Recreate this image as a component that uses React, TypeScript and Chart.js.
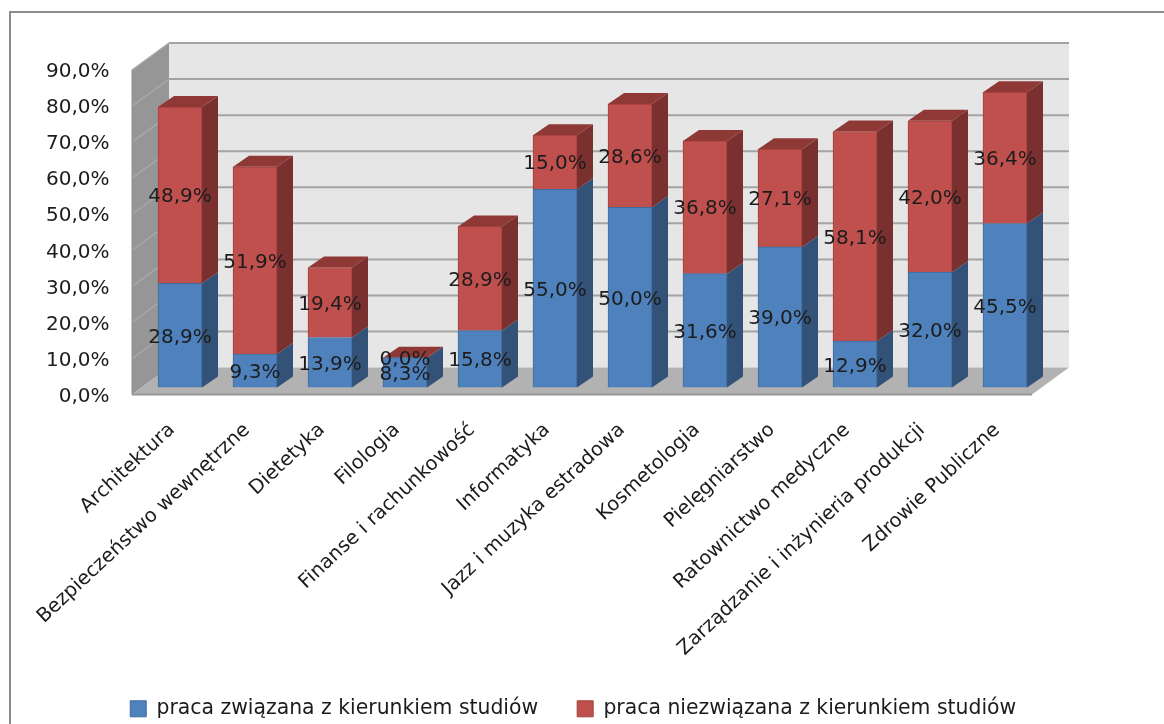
import React, { useEffect, useRef } from "react";
import { Chart, registerables } from "chart.js";

Chart.register(...registerables);

const categories = [
  "Architektura",
  "Bezpieczeństwo wewnętrzne",
  "Dietetyka",
  "Filologia",
  "Finanse i rachunkowość",
  "Informatyka",
  "Jazz i muzyka estradowa",
  "Kosmetologia",
  "Pielęgniarstwo",
  "Ratownictwo medyczne",
  "Zarządzanie i inżynieria produkcji",
  "Zdrowie Publiczne",
];
const related = [28.9, 9.3, 13.9, 8.3, 15.8, 55.0, 50.0, 31.6, 39.0, 12.9, 32.0, 45.5];
const unrelated = [48.9, 51.9, 19.4, 0.0, 28.9, 15.0, 28.6, 36.8, 27.1, 58.1, 42.0, 36.4];
const relatedName = "praca związana z kierunkiem studiów";
const unrelatedName = "praca niezwiązana z kierunkiem studiów";

const FONT = "'DejaVu Sans', sans-serif";
const TEXT = "#1c1c1c";
const fmt = (v: number) => v.toFixed(1).replace(".", ",") + "%";

const W = 1164;
const H = 724;
const BAR_LIFT = 7;
const DEPTH_X = 16;
const DEPTH_Y = 11;
const BACK_X = 37;
const BACK_Y = 27;

const poly = (ctx: CanvasRenderingContext2D, pts: number[][], fill: string) => {
  ctx.beginPath();
  pts.forEach(([x, y], i) => (i ? ctx.lineTo(x, y) : ctx.moveTo(x, y)));
  ctx.closePath();
  ctx.fillStyle = fill;
  ctx.fill();
};

const line = (ctx: CanvasRenderingContext2D, pts: number[][], color: string, w: number) => {
  ctx.beginPath();
  pts.forEach(([x, y], i) => (i ? ctx.lineTo(x, y) : ctx.moveTo(x, y)));
  ctx.strokeStyle = color;
  ctx.lineWidth = w;
  ctx.stroke();
};

const scene = {
  id: "scene",
  afterLayout(chart: any) {
    const lg = chart.legend;
    if (lg) {
      lg.left += 52;
      lg.right += 52;
      lg.top += 5;
      lg.bottom += 5;
    }
    chart.scales.x.bottom = H;
  },
  beforeDatasetsDraw(chart: any) {
    const ctx: CanvasRenderingContext2D = chart.ctx;
    const { left, right } = chart.chartArea;
    const y = chart.scales.y;
    const fl = left - 10.5;
    const fr = right - 10.5;
    const y0 = y.getPixelForValue(0);
    const yMax = y.getPixelForValue(90);
    ctx.save();
    // frame
    line(ctx, [[10, H], [10, 12], [W, 12]], "#8c8c8c", 2);
    // walls
    poly(ctx, [[fl + BACK_X, yMax - BACK_Y], [fr + BACK_X, yMax - BACK_Y], [fr + BACK_X, y0 - BACK_Y], [fl + BACK_X, y0 - BACK_Y]], "#e6e6e6");
    poly(ctx, [[fl, yMax], [fl + BACK_X, yMax - BACK_Y], [fl + BACK_X, y0 - BACK_Y], [fl, y0]], "#969696");
    y.ticks.forEach((t: any) => {
      const py = y.getPixelForValue(t.value);
      if (t.value > 0) {
        line(ctx, [[fl + BACK_X, py - BACK_Y], [fr + BACK_X, py - BACK_Y]], "#a3a3a3", 2);
        line(ctx, [[fl, py], [fl + BACK_X, py - BACK_Y]], "#a8a8a8", 1.5);
      }
    });
    // floor
    poly(ctx, [[fl, y0], [fr, y0], [fr + BACK_X, y0 - BACK_Y], [fl + BACK_X, y0 - BACK_Y]], "#b2b2b2");
    line(ctx, [[fl, y0], [fr, y0]], "#969696", 2);
    line(ctx, [[fl, yMax], [fl, y0]], "#8e8e8e", 1);

    // bar depth faces
    const metaA = chart.getDatasetMeta(0);
    const metaB = chart.getDatasetMeta(1);
    metaA.data.forEach((a: any, i: number) => {
      const b = metaB.data[i];
      const xr = a.x + a.width / 2;
      const xl = a.x - a.width / 2;
      const ya = a.y - BAR_LIFT;
      const yb = a.base - BAR_LIFT;
      const yt = b.y - BAR_LIFT;
      poly(ctx, [[xr, ya], [xr + DEPTH_X, ya - DEPTH_Y], [xr + DEPTH_X, yb - DEPTH_Y], [xr, yb]], "#335278");
      poly(ctx, [[xr, yt], [xr + DEPTH_X, yt - DEPTH_Y], [xr + DEPTH_X, ya - DEPTH_Y], [xr, ya]], "#7a302e");
      poly(ctx, [[xl, yt], [xl + DEPTH_X, yt - DEPTH_Y], [xr + DEPTH_X, yt - DEPTH_Y], [xr, yt]], "#8f3936");
    });
    ctx.restore();
    ctx.save();
    ctx.translate(0, -BAR_LIFT);
  },
  afterDatasetsDraw(chart: any) {
    const ctx: CanvasRenderingContext2D = chart.ctx;
    ctx.restore();
    ctx.save();
    ctx.font = `20px ${FONT}`;
    ctx.fillStyle = TEXT;
    ctx.textAlign = "center";
    ctx.textBaseline = "middle";
    [0, 1].forEach((d) => {
      const values = d === 0 ? related : unrelated;
      chart.getDatasetMeta(d).data.forEach((el: any, i: number) => {
        ctx.fillText(fmt(values[i]), el.x, (el.y + el.base) / 2 - BAR_LIFT + 2);
      });
    });
    ctx.restore();
  },
};

export default function App() {
  const ref = useRef<HTMLCanvasElement | null>(null);
  useEffect(() => {
    document.body.style.margin = "0";
    document.body.style.background = "#ffffff";
    const chart = new Chart(ref.current as HTMLCanvasElement, {
      type: "bar",
      data: {
        labels: categories,
        datasets: [
          { label: relatedName, data: related, backgroundColor: "#4f81bd", borderColor: "#3f6c9e", borderWidth: 1, barThickness: 44 },
          { label: unrelatedName, data: unrelated, backgroundColor: "#c0504d", borderColor: "#a33f3c", borderWidth: 1, barThickness: 44 },
        ],
      },
      options: {
        animation: false,
        responsive: false,
        devicePixelRatio: 1,
        layout: { padding: { left: 0, top: 70, right: 121.5, bottom: 0 } },
        scales: {
          x: {
            stacked: true,
            grid: { display: false, drawTicks: false },
            border: { display: false },
            afterFit: (s: any) => {
              s.height = 260;
            },
            ticks: {
              autoSkip: false,
              maxRotation: 43,
              minRotation: 43,
              padding: 24,
              labelOffset: -8,
              color: TEXT,
              font: { family: FONT, size: 19.6 },
            },
          },
          y: {
            stacked: true,
            min: 0,
            max: 90,
            grid: { display: false, drawTicks: false },
            border: { display: false },
            afterFit: (s: any) => {
              s.width = 142.5;
            },
            ticks: {
              stepSize: 10,
              padding: 33,
              labelOffset: 2,
              color: TEXT,
              font: { family: FONT, size: 20 },
              callback: (v: any) => fmt(Number(v)),
            },
          },
        },
        plugins: {
          tooltip: { enabled: false },
          legend: {
            position: "bottom",
            labels: {
              boxWidth: 16,
              boxHeight: 16,
              padding: 39,
              color: TEXT,
              font: { family: FONT, size: 20.4 },
            },
          },
        },
      },
      plugins: [scene],
    } as any);
    return () => chart.destroy();
  }, []);
  return <canvas ref={ref} width={W} height={H} style={{ display: "block", width: W, height: H, filter: "blur(0.4px)" }} />;
}
